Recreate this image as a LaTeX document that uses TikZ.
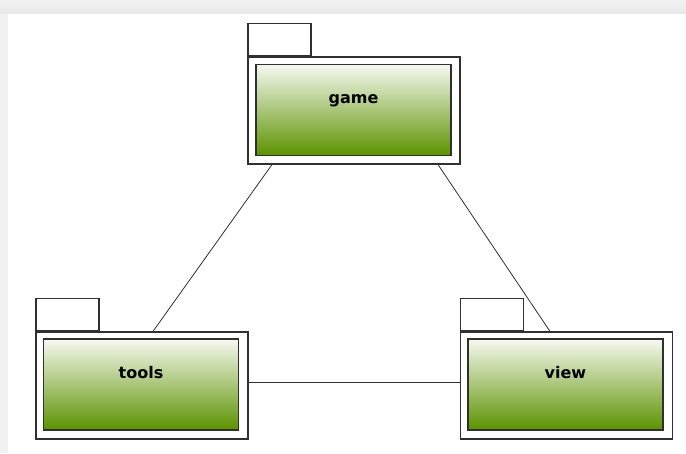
\documentclass[tikz,border=0pt]{standalone}
\usepackage{fontspec}
\newfontfamily\pkgfont{DejaVu Sans}
\usetikzlibrary{positioning,calc}
\definecolor{PkgTop}{HTML}{F6F9F1}
\definecolor{PkgBottom}{HTML}{5C9200}
\definecolor{PkgLine}{HTML}{303030}
\definecolor{FrameGray}{HTML}{F1F1F1}
\definecolor{FrameDark}{HTML}{E9E9E9}

\begin{document}
\begin{tikzpicture}[x=1pt,y=-1pt,
    pkgouter/.style={draw=PkgLine, line width=1.2pt, fill=white,
      minimum width=212pt, minimum height=107pt, inner sep=0pt},
    pkginner/.style={draw=PkgLine, line width=1.2pt,
      top color=PkgTop, bottom color=PkgBottom,
      minimum width=195pt, minimum height=91pt, inner sep=0pt},
    pkgtab/.style={draw=PkgLine, line width=1.2pt, fill=white,
      minimum width=63pt, minimum height=32pt, inner sep=0pt, anchor=south west},
    pkgname/.style={font=\pkgfont\bfseries\fontsize{16}{16}\selectfont,
      anchor=base, inner sep=0pt},
    dep/.style={draw=PkgLine, line width=0.8pt}]
  \useasboundingbox (0,0) rectangle (686,453);
  % window frame
  \fill[white] (0,0) rectangle (686,453);
  \fill[FrameGray] (0,0) rectangle (8,453);
  \shade[top color=FrameGray, bottom color=FrameDark] (0,0) rectangle (686,13);

  % packages
  \node[pkgouter] (gameOut) at (354,110.5) {};
  \node[pkginner] (gameIn) at (353.5,110) {};
  \node[pkgtab] (gameTab) at (gameOut.north west) {};
  \node[pkgname] (gameName) at ($(gameIn.north)+(0,40)$) {game};

  \node[pkgouter] (toolsOut) at (142,385.5) {};
  \node[pkginner] (toolsIn) at (141,384.5) {};
  \node[pkgtab] (toolsTab) at (toolsOut.north west) {};
  \node[pkgname] (toolsName) at ($(toolsIn.north)+(0,40)$) {tools};

  \node[pkgouter] (viewOut) at (566.5,385.5) {};
  \node[pkginner] (viewIn) at (565.5,384.5) {};
  \node[pkgtab] (viewTab) at (viewOut.north west) {};
  \node[pkgname] (viewName) at ($(viewIn.north)+(0,40)$) {view};

  % dependencies
  \draw[dep] ($(gameOut.south)+(-82,0)$) -- ($(toolsOut.north)+(11,0)$);
  \draw[dep] ($(gameOut.south)+(84,0)$) -- ($(viewOut.north)+(-16.5,0)$);
  \draw[dep] ($(toolsOut.east)+(0,-3)$) -- ($(viewOut.west)+(0,-3)$);
\end{tikzpicture}
\end{document}
